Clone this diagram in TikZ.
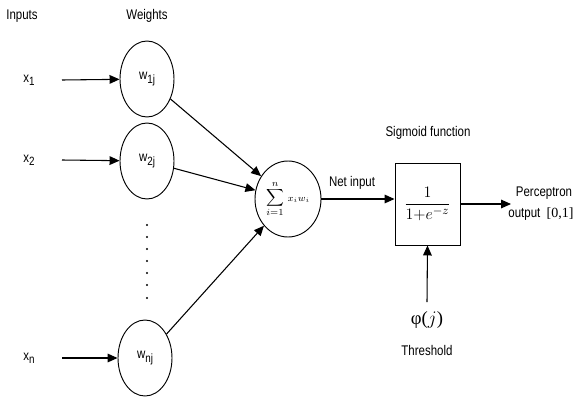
\documentclass[tikz,border=0pt]{standalone}
\usepackage{fontspec}
\setmainfont[FakeStretch=0.82]{Liberation Sans}
\newfontfamily\serifm{Liberation Serif}
\usepackage{amsmath}
\usetikzlibrary{arrows.meta}
\newcommand{\lowsub}[1]{\raisebox{-0.45ex}{\fontsize{9}{10}\selectfont #1}}
\tikzset{
  lbl/.style={font=\fontsize{10.5}{12}\selectfont, inner sep=0pt},
  wnode/.style={draw, ellipse, minimum width=40.5pt, minimum height=57pt, inner sep=0pt, line width=0.7pt, font=\fontsize{10.5}{12}\selectfont},
  conn/.style={line width=0.8pt, -{Triangle[length=7.5pt,width=6.5pt]}},
}
\usetikzlibrary{shapes.geometric}
\begin{document}
\begin{tikzpicture}[x=0.75pt,y=-0.75pt]
\useasboundingbox (0,0) rectangle (578,400);
\node[lbl] (inputs) at (22,16) {Inputs};
\node[lbl] (weights) at (147,16) {Weights};
\node[lbl] (x1) at (29,80) {x\lowsub{1}};
\node[lbl] (x2) at (29,160) {x\lowsub{2}};
\node[lbl] (xn) at (29,358) {x\lowsub{n}};
\coordinate (x1e) at (62,80);
\coordinate (x2e) at (62,160);
\coordinate (xne) at (62,358);
\node[wnode] (w1) at (147,79) {w\lowsub{1j}};
\node[wnode] (w2) at (147,161) {w\lowsub{2j}};
\node[wnode] (wn) at (145,358) {w\lowsub{nj}};
\draw[conn] (x1e) -- (w1);
\draw[conn] (x2e) -- (w2);
\draw[conn] (xne) -- (wn);
\foreach \yy in {225,237,249,261,273,285,298} \fill (147,\yy) circle (0.8pt);
\node[draw, ellipse, minimum width=49.5pt, minimum height=57pt, inner sep=0pt, line width=0.7pt] (sum) at (288,199)
  {\serifm\fontsize{9.5}{10}\selectfont $\displaystyle\sum_{i=1}^{n}\scriptstyle\, x_i w_i$};
\draw[conn] (w1) -- (sum);
\draw[conn] (w2) -- (sum);
\draw[conn] (wn) -- (sum);
\node[draw, minimum width=48.75pt, minimum height=61.5pt, inner sep=0pt, line width=0.7pt] (sig) at (427.5,204)
  {\serifm\fontsize{12.5}{14}\selectfont $\dfrac{1}{1{+}e^{-z}}$};
\node[lbl] (netin) at (352,183) {Net input};
\draw[conn] (sum) -- (sig.west |- sum);
\node[lbl] (sigl) at (428,133) {Sigmoid function};
\coordinate (oute) at (511,204);
\draw[conn] (sig.east |- oute) -- (oute);
\node[lbl] (perc) at (544,193) {Perceptron};
\node[lbl] (outl) at (541,214) {output\ \ {\serifm [0,1]}};
\node[inner sep=0pt, font=\serifm\fontsize{14}{16}\selectfont] (phi) at (427,320) {φ($j$)};
\coordinate (phit) at (427,302);
\draw[conn] (phit) -- (sig.south);
\node[lbl] (thr) at (427,350) {Threshold};
\end{tikzpicture}
\end{document}
